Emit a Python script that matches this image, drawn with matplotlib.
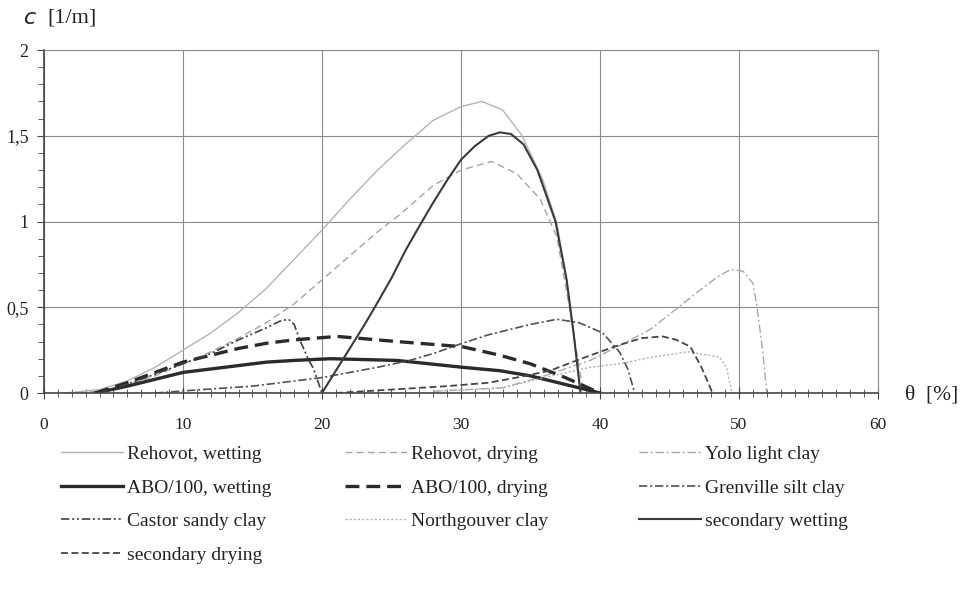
import matplotlib.pyplot as plt
from matplotlib.ticker import MultipleLocator, FuncFormatter

plt.rcParams['font.family'] = ['Liberation Serif', 'DejaVu Serif']
plt.rcParams['lines.scale_dashes'] = False

# Kurven (theta [%], c [1/m])
reh_wet_x = [1.5, 4, 6, 8, 10, 12, 14, 16, 18, 20, 22, 24, 26, 28, 30, 31.5, 33, 34.4, 35.9, 36.9, 37.6, 38.1, 38.6]
reh_wet_y = [0, 0.02, 0.07, 0.15, 0.25, 0.35, 0.47, 0.61, 0.78, 0.95, 1.13, 1.3, 1.45, 1.59, 1.67, 1.70, 1.65, 1.5, 1.24, 0.99, 0.66, 0.35, 0]

reh_dry_x = [2.5, 5, 8, 10, 12, 14, 16, 18, 20, 22, 24, 25.6, 28, 30, 32.2, 34, 35.7, 36.9, 37.8, 38.8]
reh_dry_y = [0, 0.02, 0.1, 0.17, 0.24, 0.32, 0.41, 0.52, 0.66, 0.8, 0.94, 1.04, 1.21, 1.3, 1.35, 1.28, 1.13, 0.91, 0.5, 0]

abo_wet_x = [3.7, 6, 8, 10, 12, 14, 16, 18, 20.6, 25.4, 30.1, 32.8, 35, 37.5, 40]
abo_wet_y = [0, 0.04, 0.08, 0.12, 0.14, 0.16, 0.18, 0.19, 0.2, 0.19, 0.15, 0.13, 0.1, 0.05, 0]

abo_dry_x = [3.7, 6, 8, 10, 12, 14, 16, 18, 21.1, 25.4, 30.1, 32.8, 35, 37.5, 40]
abo_dry_y = [0, 0.06, 0.12, 0.18, 0.22, 0.26, 0.29, 0.31, 0.33, 0.3, 0.27, 0.22, 0.17, 0.09, 0]

castor_x = [4, 7, 10, 12, 14, 16, 17, 17.6, 18.0, 18.4, 19.0, 19.4, 20]
castor_y = [0, 0.08, 0.17, 0.23, 0.31, 0.38, 0.42, 0.43, 0.40, 0.31, 0.2, 0.14, 0]

grenville_x = [8, 11.4, 15, 20, 22, 24, 26.3, 28, 30.1, 32, 35, 36.9, 38.5, 40.2, 41.4, 42, 42.5]
grenville_y = [0, 0.02, 0.04, 0.09, 0.12, 0.15, 0.19, 0.23, 0.29, 0.34, 0.40, 0.43, 0.41, 0.35, 0.24, 0.14, 0]

yolo_x = [28, 33, 36, 39.3, 41.5, 43.6, 45.8, 47.2, 48.5, 49.4, 50.3, 51, 51.3, 51.7, 52]
yolo_y = [0.01, 0.03, 0.1, 0.19, 0.28, 0.37, 0.51, 0.6, 0.68, 0.72, 0.71, 0.64, 0.5, 0.25, 0]

north_x = [28, 33, 36, 39.3, 41.4, 43.8, 46.3, 48.6, 49.1, 49.5]
north_y = [0.01, 0.03, 0.09, 0.15, 0.17, 0.21, 0.24, 0.21, 0.15, 0]

sec_wet_x = [20, 21, 22, 23, 23.8, 25, 26, 27.2, 28, 29, 30, 31, 32, 32.8, 33.6, 34.5, 35.5, 36.8, 37.6, 38.1, 38.6]
sec_wet_y = [0, 0.13, 0.26, 0.39, 0.5, 0.67, 0.83, 1.0, 1.11, 1.24, 1.36, 1.44, 1.5, 1.52, 1.51, 1.45, 1.3, 1.0, 0.66, 0.35, 0]

sec_dry_x = [21, 25, 29, 32, 34, 36.4, 38, 40, 41.4, 43, 44.5, 45.5, 46.5, 47.3, 48.1]
sec_dry_y = [0, 0.02, 0.04, 0.06, 0.09, 0.13, 0.18, 0.24, 0.28, 0.32, 0.33, 0.31, 0.27, 0.15, 0]

fig = plt.figure(figsize=(9.66, 5.97), dpi=100)
ax = fig.add_axes([0.0455, 0.3417, 0.8634, 0.5745])

l1, = ax.plot(reh_wet_x, reh_wet_y, color='#b4b4b4', lw=1.0, label='Rehovot, wetting')
l2, = ax.plot(reh_dry_x, reh_dry_y, color='#a4a4a4', lw=1.0, ls=(0, (5, 3)), label='Rehovot, drying')
l3, = ax.plot(yolo_x, yolo_y, color='#a8a8a8', lw=1.0, ls=(0, (6, 2, 1.5, 2)), label='Yolo light clay')
l4, = ax.plot(abo_wet_x, abo_wet_y, color='#2a2a2a', lw=2.4, label='ABO/100, wetting')
l5, = ax.plot(abo_dry_x, abo_dry_y, color='#2a2a2a', lw=2.4, ls=(0, (10, 5)), label='ABO/100, drying')
l6, = ax.plot(grenville_x, grenville_y, color='#505050', lw=1.2, ls=(0, (6, 2, 1.5, 2)), label='Grenville silt clay')
l7, = ax.plot(castor_x, castor_y, color='#404040', lw=1.2, ls=(0, (6, 2, 1.5, 2, 1.5, 2)), label='Castor sandy clay')
l8, = ax.plot(north_x, north_y, color='#b0b0b0', lw=1.0, ls=(0, (1.5, 1.5)), label='Northgouver clay')
l9, = ax.plot(sec_wet_x, sec_wet_y, color='#3a3a3a', lw=1.5, label='secondary wetting')
l10, = ax.plot(sec_dry_x, sec_dry_y, color='#454545', lw=1.3, ls=(0, (5, 2.5)), label='secondary drying')

ax.set_xlim(0, 60)
ax.set_ylim(0, 2)
ax.xaxis.set_major_locator(MultipleLocator(10))
ax.xaxis.set_minor_locator(MultipleLocator(1))
ax.yaxis.set_major_locator(MultipleLocator(0.5))
ax.yaxis.set_minor_locator(MultipleLocator(0.1))
ax.yaxis.set_major_formatter(FuncFormatter(lambda v, p: ('%g' % v).replace('.', ',')))
ax.grid(True, which='major', color='#8a8a8a', lw=0.8)
ax.set_axisbelow(True)

for s in ['top', 'right']:
    ax.spines[s].set_color('#8a8a8a')
    ax.spines[s].set_linewidth(0.8)
for s in ['left', 'bottom']:
    ax.spines[s].set_color('#444444')
    ax.spines[s].set_linewidth(1.2)

ax.tick_params(axis='x', which='both', direction='inout', colors='#444444', labelcolor='#222222', labelsize=12.5, pad=13)
ax.tick_params(axis='x', which='major', length=8)
ax.tick_params(axis='x', which='minor', length=6)
ax.tick_params(axis='y', which='both', direction='out', colors='#444444', labelcolor='#222222', labelsize=13, pad=6)
ax.tick_params(axis='y', which='major', length=5)
ax.tick_params(axis='y', which='minor', length=4)

fig.text(24 / 966, 1 - 18 / 597, 'c', fontsize=16, style='italic', family='DejaVu Sans', va='center', color='#222222')
fig.text(47 / 966, 1 - 18 / 597, '[1/m]', fontsize=16, va='center', color='#222222')
fig.text(905 / 966, 1 - 395 / 597, 'θ  [%]', fontsize=15.5, va='center', color='#222222')

# Legende: drei Spalten, einzeln platziert
columns = [[l1, l4, l7, l10], [l2, l5, l8], [l3, l6, l9]]
col_x = [43, 327, 621]
for hs, cx in zip(columns, col_x):
    leg = fig.legend(handles=hs, labels=[h.get_label() for h in hs],
                     loc='upper left', bbox_to_anchor=(cx / 966, 1 - 428 / 597),
                     frameon=False, fontsize=14, handlelength=3.2, handletextpad=0.2,
                     labelspacing=0.82)
    for t in leg.get_texts():
        t.set_color('#222222')

fig.savefig('out.png', dpi=100)
